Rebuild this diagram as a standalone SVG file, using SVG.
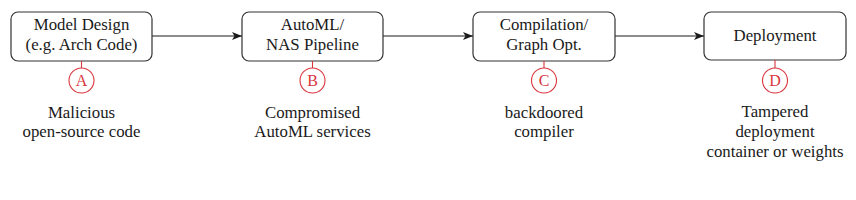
<svg xmlns="http://www.w3.org/2000/svg" width="856" height="200" viewBox="0 0 856 200">
<defs>
<style>
.box{fill:#fff;stroke:#333;stroke-width:1.2}
.t{font-family:"Liberation Serif","DejaVu Serif",serif;font-size:16.8px;fill:#1a1a1a;text-anchor:middle}
.edge{stroke:#1a1a1a;stroke-width:1.1;fill:none}
.tick{stroke:#d9363e;stroke-width:1.1}
.c{fill:#fff;stroke:#d9363e;stroke-width:1.1}
.ct{font-family:"Liberation Serif","DejaVu Serif",serif;font-size:16px;fill:#d9363e;text-anchor:middle}
</style>
<marker id="arr" viewBox="0 0 10 10" refX="10" refY="5" markerWidth="10" markerHeight="10" markerUnits="userSpaceOnUse" orient="auto">
<path d="M0,1 L10,5 L0,9 L2.5,5 Z" fill="#1a1a1a"/>
</marker>
</defs>
<rect width="856" height="200" fill="#fff"/>
<g id="connectors">
<line class="edge" x1="152" y1="36" x2="242" y2="36" marker-end="url(#arr)"/>
<line class="edge" x1="383" y1="36" x2="473" y2="36" marker-end="url(#arr)"/>
<line class="edge" x1="615" y1="36" x2="704" y2="36" marker-end="url(#arr)"/>
</g>
<g id="nodeA">
<rect class="box" x="11" y="12" width="141" height="49" rx="7"/>
<text class="t" x="81.5" y="30">Model Design</text>
<text class="t" x="81.5" y="50">(e.g. Arch Code)</text>
<line class="tick" x1="81.5" y1="61" x2="81.5" y2="68"/>
<circle class="c" cx="81.5" cy="80.5" r="12.5"/>
<text class="ct" x="81.5" y="86">A</text>
<text class="t" x="81.5" y="118">Malicious</text>
<text class="t" x="81.5" y="137">open-source code</text>
</g>
<g id="nodeB">
<rect class="box" x="242" y="12" width="141" height="49" rx="7"/>
<text class="t" x="312.5" y="30">AutoML/</text>
<text class="t" x="312.5" y="50">NAS Pipeline</text>
<line class="tick" x1="312.5" y1="61" x2="312.5" y2="68"/>
<circle class="c" cx="312.5" cy="80.5" r="12.5"/>
<text class="ct" x="312.5" y="86">B</text>
<text class="t" x="312.5" y="118">Compromised</text>
<text class="t" x="312.5" y="137">AutoML services</text>
</g>
<g id="nodeC">
<rect class="box" x="473" y="12" width="142" height="49" rx="7"/>
<text class="t" x="544" y="30">Compilation/</text>
<text class="t" x="544" y="50">Graph Opt.</text>
<line class="tick" x1="544" y1="61" x2="544" y2="68"/>
<circle class="c" cx="544" cy="80.5" r="12.5"/>
<text class="ct" x="544" y="86">C</text>
<text class="t" x="544" y="118">backdoored</text>
<text class="t" x="544" y="137">compiler</text>
</g>
<g id="nodeD">
<rect class="box" x="704" y="12" width="142" height="48" rx="7"/>
<text class="t" x="775" y="41">Deployment</text>
<line class="tick" x1="775" y1="60" x2="775" y2="68"/>
<circle class="c" cx="775" cy="80.5" r="12.5"/>
<text class="ct" x="775" y="86">D</text>
<text class="t" x="775" y="117">Tampered</text>
<text class="t" x="775" y="137">deployment</text>
<text class="t" x="775" y="157">container or weights</text>
</g>
</svg>
